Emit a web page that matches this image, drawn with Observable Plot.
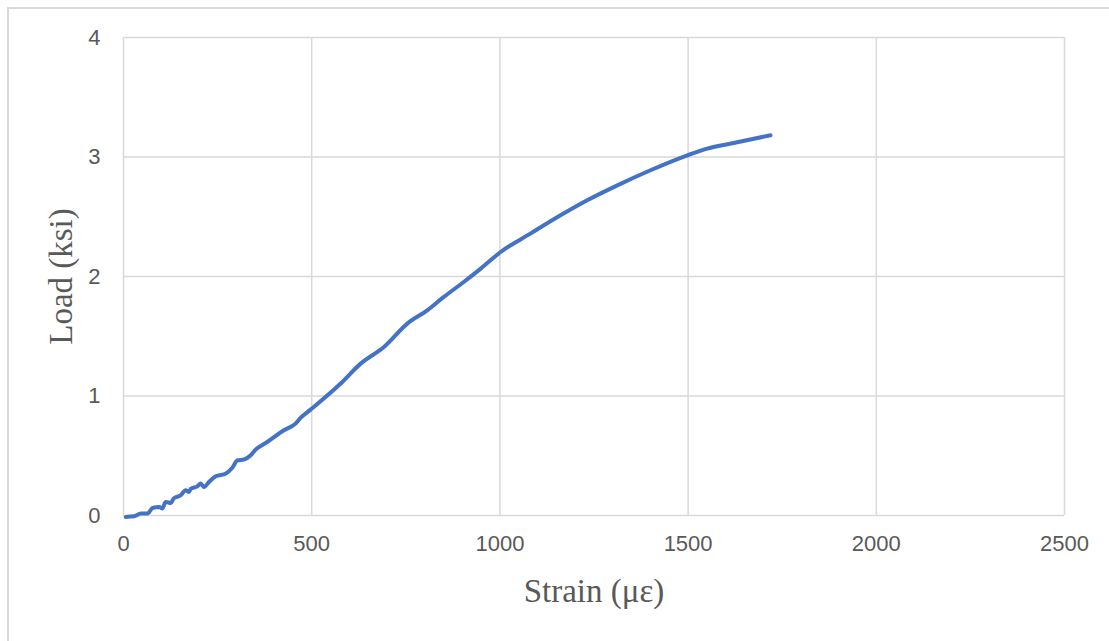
<!DOCTYPE html>
<html>
<head>
<meta charset="utf-8">
<script src="https://cdn.jsdelivr.net/npm/d3@7"></script>
<script src="https://cdn.jsdelivr.net/npm/@observablehq/plot@0.6"></script>
<style>
  html, body { margin: 0; padding: 0; background: #fff; }
  #wrap { position: relative; width: 1109px; height: 641px; overflow: hidden; }
  #border { position: absolute; left: 7px; top: 7px; width: 1200px; height: 700px;
            border-left: 2px solid #d9d9d9; border-top: 2px solid #d9d9d9; pointer-events: none; }
  #chart { position: absolute; left: 0; top: 0; }
</style>
</head>
<body>
<div id="wrap"><div id="chart"></div><div id="border"></div></div>
<script>
const strain = [6, 28, 46, 64, 77, 95, 103, 112, 126, 133, 152, 165, 174, 179, 196, 205, 214, 227, 245, 272, 289, 303, 320, 338, 351, 382, 426, 457, 471, 497, 577, 630, 692, 754, 807, 851, 904, 949, 1002, 1081, 1161, 1232, 1312, 1400, 1498, 1551, 1621, 1719];
const load = [-0.012, -0.007, 0.016, 0.016, 0.063, 0.071, 0.058, 0.113, 0.105, 0.141, 0.169, 0.211, 0.197, 0.225, 0.244, 0.267, 0.239, 0.28, 0.328, 0.351, 0.40, 0.462, 0.468, 0.504, 0.551, 0.615, 0.713, 0.769, 0.819, 0.886, 1.104, 1.271, 1.41, 1.606, 1.717, 1.829, 1.954, 2.066, 2.205, 2.359, 2.512, 2.638, 2.763, 2.889, 3.014, 3.07, 3.117, 3.182];
const xTicks = [0, 500, 1000, 1500, 2000, 2500];
const yTicks = [0, 1, 2, 3, 4];
const xTitle = "Strain (με)";
const yTitle = "Load (ksi)";

const data = strain.map((s, i) => ({strain: s, load: load[i]}));
const tickFont = "'Liberation Sans', Arial, sans-serif";
const titleFont = "'Liberation Serif', 'Times New Roman', serif";

const chart = Plot.plot({
  width: 1109,
  height: 641,
  marginTop: 37,
  marginRight: 45,
  marginBottom: 126,
  marginLeft: 123,
  style: {fontFamily: tickFont, fontSize: "22px", color: "#595959", background: "transparent"},
  x: {domain: [0, 2500]},
  y: {domain: [0, 4]},
  marks: [
    Plot.gridX(xTicks, {stroke: "#d9d9d9", strokeOpacity: 1, strokeWidth: 1.5}),
    Plot.gridY(yTicks, {stroke: "#d9d9d9", strokeOpacity: 1, strokeWidth: 1.5}),
    Plot.axisX(xTicks, {tickSize: 0, tickPadding: 20, label: null, tickFormat: d => String(d), fill: "#595959", fontSize: "22px"}),
    Plot.axisY(yTicks, {tickSize: 0, tickPadding: 23, label: null, tickFormat: d => String(d), fill: "#595959", fontSize: "22px"}),
    Plot.line(data, {x: "strain", y: "load", curve: "monotone-x", stroke: "#4472c4", strokeWidth: 4, strokeLinecap: "round", strokeLinejoin: "round"}),
    Plot.text([xTitle], {frameAnchor: "bottom", dy: 76, textAnchor: "middle", lineAnchor: "middle", fontFamily: titleFont, fontSize: 33, fill: "#595959"}),
    Plot.text([yTitle], {frameAnchor: "left", dx: -62, textAnchor: "middle", lineAnchor: "middle", rotate: -90, fontFamily: titleFont, fontSize: 33, fill: "#595959"})
  ]
});
document.getElementById("chart").appendChild(chart);
</script>
</body>
</html>
